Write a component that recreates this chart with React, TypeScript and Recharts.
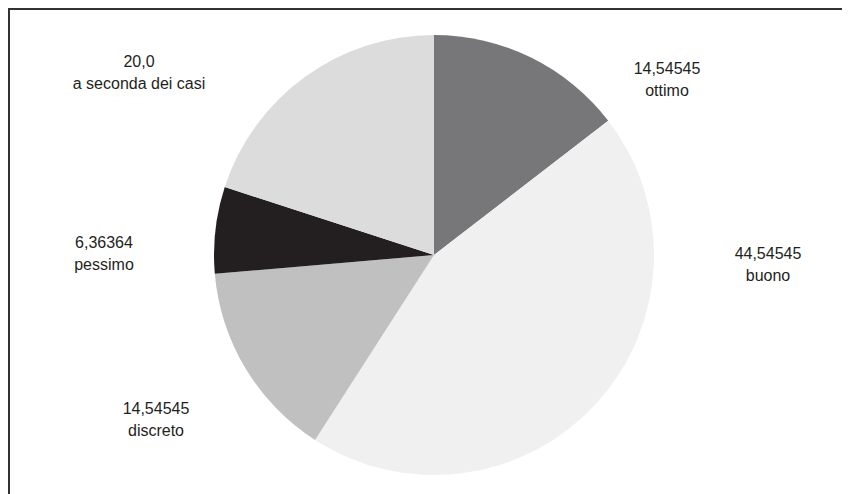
import { PieChart, Pie, Cell } from 'recharts';

const categories = ['ottimo', 'buono', 'discreto', 'pessimo', 'a seconda dei casi'];
const values = [14.54545, 44.54545, 14.54545, 6.36364, 20.0];
const valueLabels = ['14,54545', '44,54545', '14,54545', '6,36364', '20,0'];

const colors = ['#77777a', '#f0f0f1', '#c0c0c1', '#231f20', '#dcdcdd'];
// label position (first line baseline) relative to the pie centre
const labelOffsets = [
  [233, -181],
  [334, 4],
  [-278, 159],
  [-330, -7],
  [-295, -188],
];

const data = categories.map((name, i) => ({ name, value: values[i], text: valueLabels[i] }));

const renderLabel = (props: any) => {
  const { cx, cy, index } = props;
  const [dx, dy] = labelOffsets[index];
  const x = cx + dx;
  const y = cy + dy;
  return (
    <text x={x} y={y} textAnchor="middle" fill="#231f20" fontSize={16} fontFamily="'Liberation Sans', Arial, sans-serif">
      <tspan x={x} y={y}>{data[index].text}</tspan>
      <tspan x={x} y={y + 22}>{data[index].name}</tspan>
    </text>
  );
};

export default function App() {
  return (
    <div
      style={{
        width: 842,
        height: 486,
        boxSizing: 'border-box',
        borderTop: '2px solid #333',
        borderLeft: '2px solid #333',
      }}
    >
      <style>{'body{overflow:hidden}'}</style>
      <PieChart width={840} height={484} margin={{ top: 0, right: 0, bottom: 0, left: 0 }}>
        <Pie
          data={data}
          dataKey="value"
          nameKey="name"
          cx={424}
          cy={245}
          outerRadius={220}
          startAngle={90}
          endAngle={-270}
          stroke="none"
          label={renderLabel}
          labelLine={false}
          isAnimationActive={false}
        >
          {data.map((d, i) => (
            <Cell key={d.name} fill={colors[i]} />
          ))}
        </Pie>
      </PieChart>
    </div>
  );
}
